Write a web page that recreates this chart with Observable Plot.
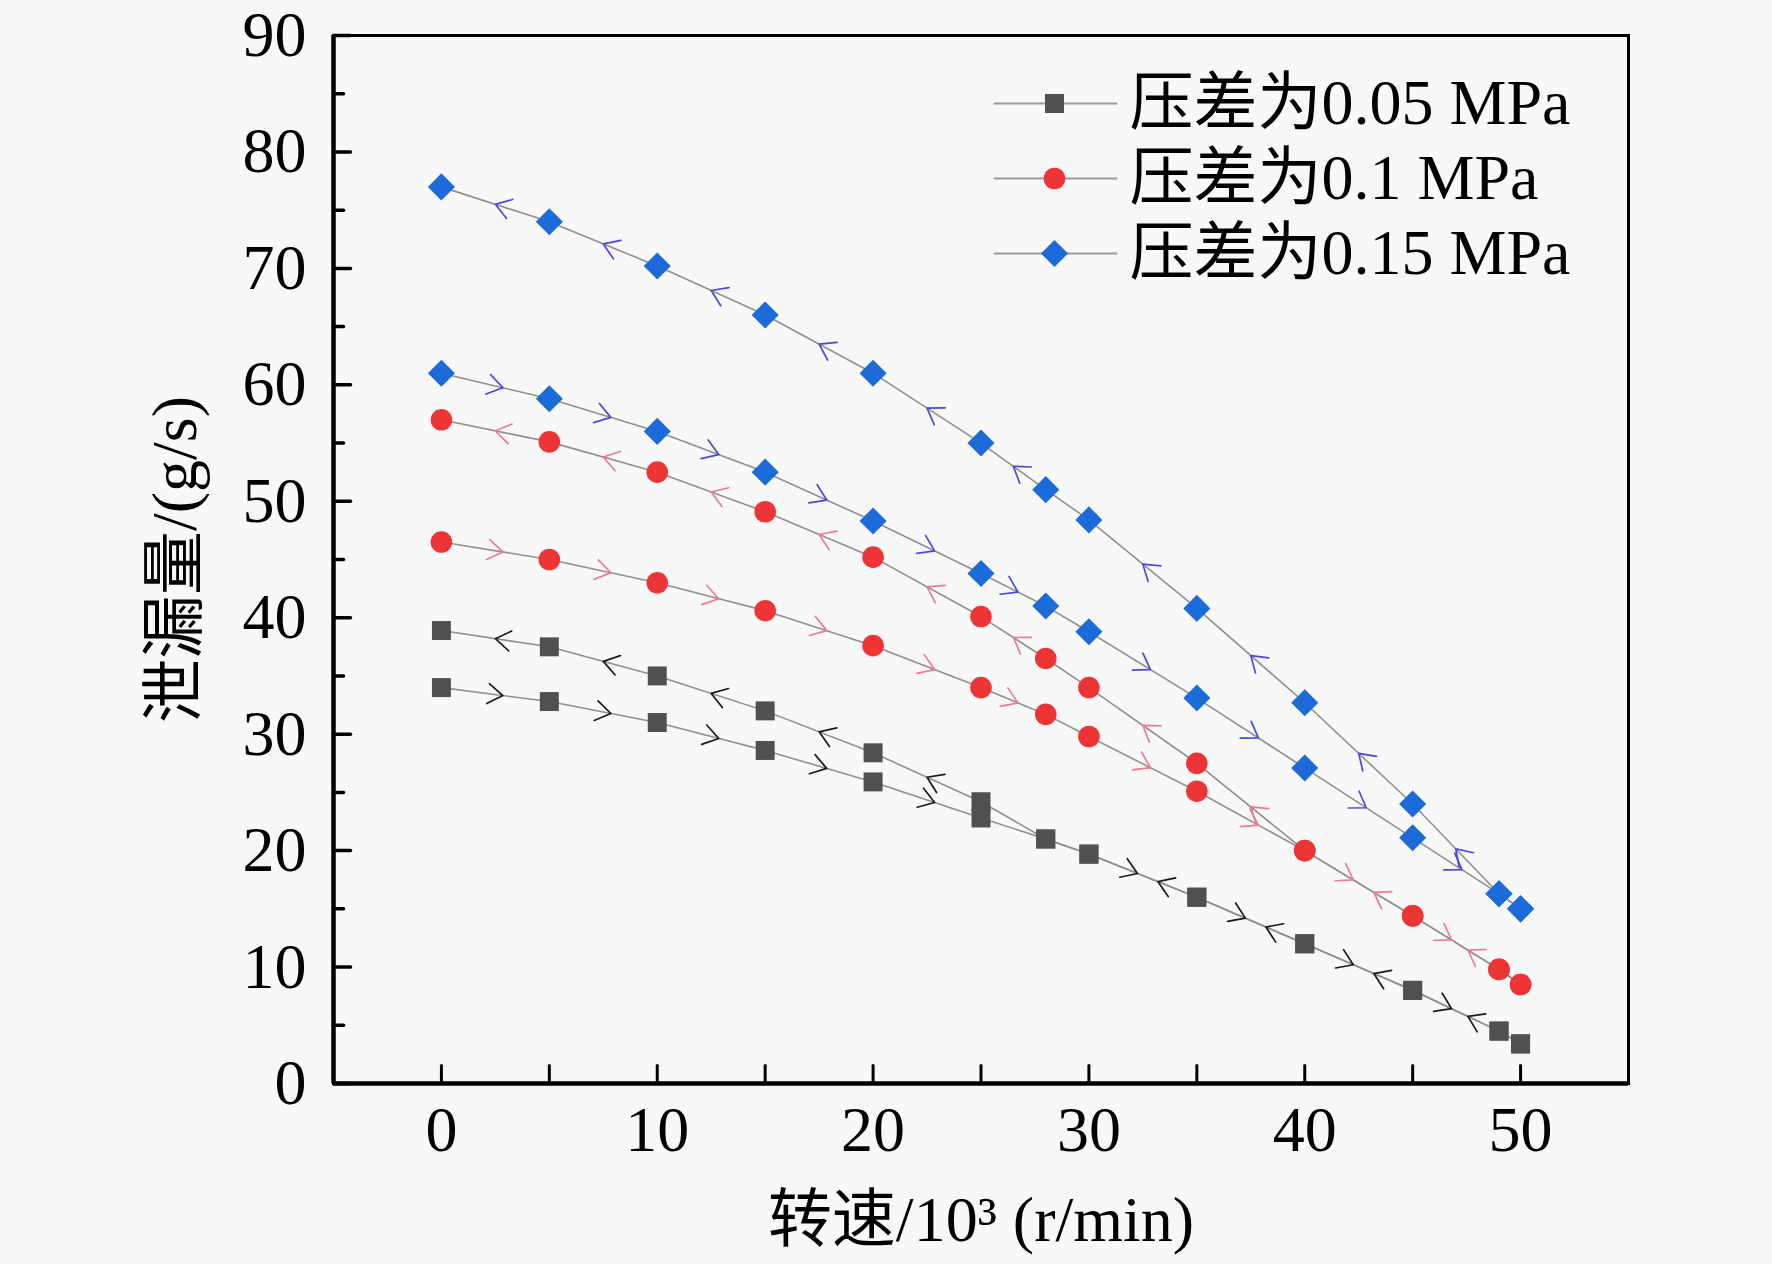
<!DOCTYPE html>
<html><head><meta charset="utf-8">
<script src="https://cdn.jsdelivr.net/npm/d3@7"></script>
<script src="https://cdn.jsdelivr.net/npm/@observablehq/plot@0.6"></script>
<style>
html,body{margin:0;padding:0;background:#f8f8f8;}
#chart{width:1772px;height:1264px;}
</style></head><body><div id="chart"></div>
<script>
// ---- data ----
const speed = [0, 5, 10, 15, 20, 25, 28, 30, 35, 40, 45, 49, 50];
// branch measured while lowering speed (arrows point left)
const p005Dec = [38.9, 37.5, 35.0, 32.0, 28.4, 24.2, 21.0, 19.7, 16.0, 12.0, 8.0, 4.5, 3.4];
// branch measured while raising speed (arrows point right)
const p005Inc = [34.0, 32.8, 31.0, 28.6, 25.9, 22.8, 21.0, 19.7, 16.0, 12.0, 8.0, 4.5, 3.4];
const p010Dec = [57.0, 55.1, 52.5, 49.1, 45.2, 40.1, 36.5, 34.0, 27.5, 20.0, 14.4, 9.8, 8.5];
const p010Inc = [46.5, 45.0, 43.0, 40.6, 37.6, 34.0, 31.7, 29.8, 25.1, 20.0, 14.4, 9.8, 8.5];
const p015Dec = [77.0, 74.0, 70.2, 66.0, 61.0, 55.0, 51.0, 48.4, 40.8, 32.7, 24.0, 16.3, 15.0];
const p015Inc = [61.0, 58.8, 56.0, 52.5, 48.3, 43.8, 41.0, 38.8, 33.1, 27.1, 21.1, 16.3, 15.0];

const seriesNames = ["压差为0.05 MPa", "压差为0.1 MPa", "压差为0.15 MPa"];
const seriesColors = ["#505050", "#ee3535", "#1c6bd9"];
const arrowColors = ["#1a1a1a", "#f07890", "#4848e0"];
const seriesSymbols = ["square", "circle", "diamond2"];
const symbolR = [10.7, 10.8, 12.2];

const xTicks = [0, 10, 20, 30, 40, 50];
const xMinorTicks = [5, 15, 25, 35, 45];
const yTicks = [0, 10, 20, 30, 40, 50, 60, 70, 80, 90];
const yMinorTicks = [5, 15, 25, 35, 45, 55, 65, 75, 85];
const xDomain = [-5, 55];
const yDomain = [0, 90];
const xTitle = "转速/10³ (r/min)";
const yTitle = "泄漏量/(g/s)";

// ---- layout ----
const W = 1772, H = 1264;
const mL = 333, mR = 144, mT = 35, mB = 181;
const FONT = "'Liberation Serif','Times New Roman','Noto Sans CJK SC',serif";
const FS = 64;
const kx = (W - mL - mR) / (xDomain[1] - xDomain[0]);
const ky = (H - mT - mB) / (yDomain[1] - yDomain[0]);

const curves = [
  {s: 0, dir: -1, v: p005Dec, other: p005Inc},
  {s: 0, dir: +1, v: p005Inc, other: p005Dec},
  {s: 1, dir: -1, v: p010Dec, other: p010Inc},
  {s: 1, dir: +1, v: p010Inc, other: p010Dec},
  {s: 2, dir: -1, v: p015Dec, other: p015Inc},
  {s: 2, dir: +1, v: p015Inc, other: p015Dec}
];

const rows = [];
curves.forEach((c, ci) => c.v.forEach((y, i) => rows.push({curve: ci, s: c.s, x: speed[i], y})));

const arrows = [];
curves.forEach(c => {
  for (let i = 0; i < speed.length - 1; i++) {
    const x0 = speed[i], x1 = speed[i + 1], v0 = c.v[i], v1 = c.v[i + 1];
    if (x0 === 28 || x0 === 49) continue;
    if (c.s === 0 && x0 === 25) continue;
    const shared = c.other[i] === v0 && c.other[i + 1] === v1;
    const t = shared ? (c.dir > 0 ? 0.45 : 0.64) : (c.dir > 0 ? 0.57 : 0.5);
    const dxp = c.dir * (x1 - x0) * kx;
    const dyp = -c.dir * (v1 - v0) * ky;
    arrows.push({
      s: c.s,
      x: x0 + t * (x1 - x0),
      y: v0 + t * (v1 - v0),
      rot: Math.atan2(dxp, -dyp) * 180 / Math.PI
    });
  }
});

// chevron: apex at the vector tip (0,-l), arms trailing back
const chevron = {draw(ctx, l) { ctx.moveTo(-10, 0); ctx.lineTo(0, -l); ctx.lineTo(10, 0); }};
const lineShape = {draw(ctx, l) { ctx.moveTo(0, 0); ctx.lineTo(0, -l); }};

const marks = [];
// connecting lines
marks.push(Plot.line(rows, {x: "x", y: "y", z: "curve", stroke: "#909090", strokeWidth: 1.6}));
// direction arrows
[0, 1, 2].forEach(s => {
  marks.push(Plot.vector(arrows.filter(a => a.s === s), {
    x: "x", y: "y", rotate: "rot", length: 15, anchor: "end", shape: chevron,
    stroke: arrowColors[s], strokeWidth: 1.7
  }));
});
// markers
[0, 1, 2].forEach(s => {
  marks.push(Plot.dot(rows.filter(r => r.s === s), {
    x: "x", y: "y", symbol: seriesSymbols[s], r: symbolR[s], fill: seriesColors[s], stroke: "none"
  }));
});
// frame
marks.push(Plot.frame({stroke: "black", strokeWidth: 3}));
marks.push(Plot.ruleX([xDomain[0]], {stroke: "black", strokeWidth: 4.5}));
marks.push(Plot.ruleY([yDomain[0]], {stroke: "black", strokeWidth: 4.5}));
// ticks (inward)
marks.push(Plot.vector(yTicks, {y: d => d, frameAnchor: "left", rotate: 90, length: 17, anchor: "start", shape: lineShape, stroke: "black", strokeWidth: 3.5}));
marks.push(Plot.vector(yMinorTicks, {y: d => d, frameAnchor: "left", rotate: 90, length: 10, anchor: "start", shape: lineShape, stroke: "black", strokeWidth: 3.5}));
marks.push(Plot.vector(xTicks.concat(xMinorTicks), {x: d => d, frameAnchor: "bottom", rotate: 0, length: 18, anchor: "start", shape: lineShape, stroke: "black", strokeWidth: 3}));
// tick labels
marks.push(Plot.axisX(xTicks, {anchor: "bottom", tickSize: 0, tickPadding: 22, fontSize: FS, label: null, fill: "black"}));
marks.push(Plot.axisY(yTicks, {anchor: "left", tickSize: 0, tickPadding: 27, fontSize: FS, label: null, fill: "black"}));
// axis titles
marks.push(Plot.text([xTitle], {text: d => d, frameAnchor: "bottom", dy: 137, textAnchor: "middle", lineAnchor: "middle", fontSize: FS, fill: "black"}));
marks.push(Plot.text([yTitle], {text: d => d, frameAnchor: "left", dx: -158, rotate: -90, textAnchor: "middle", lineAnchor: "middle", fontSize: FS, fill: "black"}));
// legend (inside top-right)
const legendDy = [68, 143, 218];
seriesNames.forEach((name, s) => {
  marks.push(Plot.vector([name], {frameAnchor: "top-right", dx: -573, dy: legendDy[s], rotate: 90, length: 122, anchor: "middle", shape: lineShape, stroke: "#9a9a9a", strokeWidth: 2}));
  marks.push(Plot.dot([name], {frameAnchor: "top-right", dx: -574, dy: legendDy[s], symbol: seriesSymbols[s], r: symbolR[s], fill: seriesColors[s], stroke: "none"}));
  marks.push(Plot.text([name], {text: d => d, frameAnchor: "top-right", dx: -499, dy: legendDy[s], textAnchor: "start", lineAnchor: "middle", fontSize: FS, fill: "black"}));
});

const chart = Plot.plot({
  width: W, height: H,
  marginLeft: mL, marginRight: mR, marginTop: mT, marginBottom: mB,
  x: {domain: xDomain},
  y: {domain: yDomain},
  style: {background: "#f8f8f8", fontFamily: FONT, color: "black", overflow: "visible"},
  marks
});
document.getElementById("chart").appendChild(chart);
</script>
</body></html>
